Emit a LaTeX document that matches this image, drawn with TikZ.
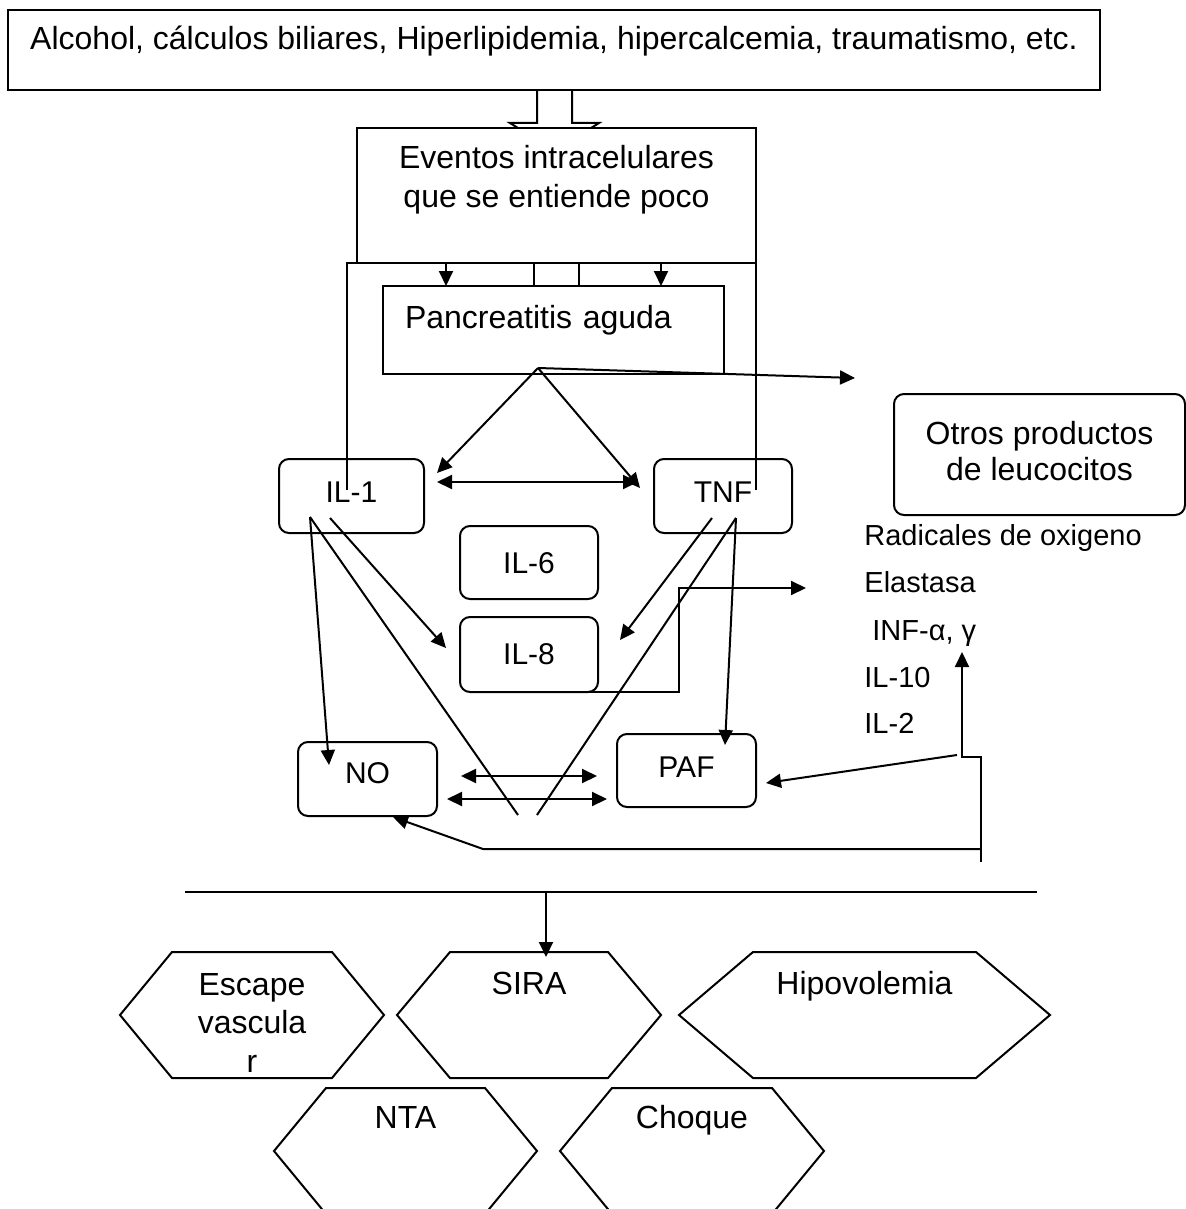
\documentclass[tikz,border=0pt]{standalone}
\usepackage{fontspec}
\setmainfont{Liberation Sans}
\usetikzlibrary{arrows.meta, positioning, calc}

\pgfdeclarelayer{back}
\pgfsetlayers{back,main}

\tikzset{
  box/.style={draw, line width=1pt, outer sep=0pt, align=center, font=\fontsize{16}{19.2}\selectfont},
  cbox/.style={draw, line width=1pt, rounded corners=5pt, outer sep=0pt, align=center, font=\fontsize{15}{18}\selectfont},
  lift/.style={text height=10.7pt, text depth=#1},
  hexa/.style={outer sep=0pt, inner sep=0pt, minimum height=63pt, align=center, font=\fontsize{16}{19.2}\selectfont},
  toptext/.style={text height=8pt, text depth=#1},
  listtxt/.style={anchor=base west, inner sep=0pt, font=\fontsize{14.5}{17.4}\selectfont},
  conn/.style={line width=1pt},
  arr/.style={line width=1pt, -{Triangle[length=7.5pt, width=7pt]}},
  darr/.style={line width=1pt, {Triangle[length=7.5pt, width=7pt]}-{Triangle[length=7.5pt, width=7pt]}},
  hexline/.style={line width=1pt, line join=miter}
}

% hexagon round a node: #1 node name, #2 size of the pointed ends
\newcommand{\hexframe}[2]{%
  \draw[hexline] (#1.west) -- ($(#1.north west)+(#2,0)$) -- ($(#1.north east)+(-#2,0)$)
    -- (#1.east) -- ($(#1.south east)+(-#2,0)$) -- ($(#1.south west)+(#2,0)$) -- cycle;}

\begin{document}
\begin{tikzpicture}[x=0.5pt, y=-0.5pt]
  \useasboundingbox (0,0) rectangle (1186,1209);

  % --- Top: causes ---
  \node[box, minimum width=546pt, minimum height=40pt, text height=12pt, text depth=12pt] (causas) at (554,50)
    {Alcohol, cálculos biliares, Hiperlipidemia, hipercalcemia, traumatismo, etc.};
  \node[box, fill=white, minimum width=199.5pt, minimum height=67.5pt] (eventos) at (556.5,195.5)
    {Eventos intracelulares\\que se entiende poco\\~};
  \node[box, minimum width=170.5pt, minimum height=44pt, text width=148.5pt, inner xsep=11pt, align=left,
    text height=12pt, text depth=13.5pt] (pancrea) at (553.5,330) {Pancreatitis aguda};

  \begin{pgfonlayer}{back}
    \draw[conn, fill=white] ($(causas.south)+(-17,0)$) -- ++(0,33) -- ++(-27,0) -- ++(44.5,28)
      -- ++(44.5,-28) -- ++(-27,0) -- ++(0,-33);
  \end{pgfonlayer}

  % --- Mediators ---
  \node[cbox, lift=4pt, minimum width=72.5pt, minimum height=37pt] (il1) at (351.5,496) {IL-1};
  \node[cbox, lift=4pt, minimum width=69pt, minimum height=37pt] (tnf) at (723,496) {TNF};
  \node[cbox, lift=0pt, minimum width=69pt, minimum height=36.5pt] (il6) at (529,562.5) {IL-6};
  \node[cbox, lift=1pt, minimum width=69pt, minimum height=37.5pt] (il8) at (529,654.5) {IL-8};
  \node[cbox, lift=6pt, minimum width=69.5pt, minimum height=37pt] (no) at (367.5,779) {NO};
  \node[cbox, lift=3.5pt, minimum width=69.5pt, minimum height=36.5pt] (paf) at (686.5,770.5) {PAF};
  \node[cbox, minimum width=145.5pt, minimum height=60.5pt, font=\fontsize{16}{18}\selectfont] (otros) at (1039.5,454.5)
    {Otros productos\\de leucocitos\rule[-4pt]{0pt}{0pt}};

  % --- Right: leukocyte products ---
  \node[listtxt] (radicales) at (864,545) {Radicales de oxigeno};
  \node[listtxt] (elastasa) at (864,592) {Elastasa};
  \node[listtxt] (inf) at (872,640) {INF-α, γ};
  \node[listtxt] (il10) at (864,687) {IL-10};
  \node[listtxt] (il2) at (864,733) {IL-2};

  % --- Bottom: consequences ---
  \node[hexa, minimum width=132pt] (escape) at (252,1015) {\rule{0pt}{18.7pt}Escape\\vascula\\r};
  \node[hexa, minimum width=132pt, toptext=28.5pt] (sira) at (529,1015) {SIRA};
  \node[hexa, minimum width=185.5pt, toptext=28.5pt] (hipo) at (864.5,1015) {Hipovolemia};
  \node[hexa, minimum width=131.5pt, toptext=30.5pt] (nta) at (405.5,1151) {NTA};
  \node[hexa, minimum width=132pt, toptext=30.5pt] (choque) at (692,1151) {Choque};
  \hexframe{escape}{52}
  \hexframe{sira}{53}
  \hexframe{hipo}{74}
  \hexframe{nta}{52}
  \hexframe{choque}{52}

  % free ends
  \coordinate (il1in) at (347,490);
  \coordinate (tnfin) at (756,490);
  \coordinate (pL) at ($(pancrea.north west)+(63,0)$);
  \coordinate (pR) at ($(pancrea.north east)+(-63,0)$);
  \coordinate (psrc) at ($(pancrea.south)+(-15.5,-6)$);
  \coordinate (ia) at ($(il1.south west)+(31,-16)$);
  \coordinate (ib) at ($(il1.south west)+(51,-15)$);
  \coordinate (ta) at ($(tnf.south west)+(58,-15)$);
  \coordinate (tb) at ($(tnf.south west)+(82,-15)$);
  \coordinate (vl) at (518,815);
  \coordinate (vr) at (537,815);
  \coordinate (ep) at ($(elastasa.base west)+(-58,-4)$);
  \coordinate (bb) at (981,862);
  \coordinate (sep) at (546,892);

  % eventos -> pancreatitis
  \draw[conn] ($(pancrea.north)+(-19.5,0)$) |- (il1in |- eventos.south) -- (il1in);
  \draw[arr] (pL |- eventos.south) -- (pL);
  \draw[conn] ($(pancrea.north)+(25.5,0)$) |- (eventos.south east) -- (tnfin);
  \draw[arr] (pR |- eventos.south) -- (pR);

  % pancreatitis -> mediators
  \draw[arr] (psrc) -- ($(il1.north east)+(13,14)$);
  \draw[arr] (psrc) -- ($(tnf.north west)+(-14,29)$);
  \draw[arr] (psrc) -- ($(otros.west)+(-39,-76.5)$);
  \draw[darr] ($(il1.east)+(13,-14)$) -- ($(tnf.west)+(-16,-14)$);

  % IL-1 and TNF
  \draw[arr] (ia) -- ($(no.north west)+(31,23)$);
  \draw[conn] (ia) -- (vl);
  \draw[arr] (ib) -- ($(il8.west)+(-14,-6.5)$);
  \draw[arr] (ta) -- ($(il8.east)+(22,-14.5)$);
  \draw[conn] (tb) -- (vr);
  \draw[arr] (tb) -- ($(paf.north)+(38.5,11)$);

  % IL-8 -> leukocyte products
  \draw[arr] ($(il8.south)+(21,0)$) -| ($(ep)+(-127,0)$) -- (ep);

  % NO <-> PAF
  \draw[darr] ($(no.east)+(24,-3)$) -- ($(paf.west)+(-20,5.5)$);
  \draw[darr] ($(no.east)+(10,20)$) -- ($(paf.west)+(-10,28.5)$);

  % feedback
  \draw[arr] (bb) -- ++(0,-105) -- ++(-19,0) -- ++(0,-105);
  \draw[arr] ($(bb)+(-24,-107)$) -- ($(paf.east)+(10,12.5)$);
  \draw[arr] ($(bb)+(0,-13)$) -- ($(no.south)+(115.5,33)$) -- ($(no.south)+(25.5,1)$);

  % separator -> SIRA
  \draw[conn] (185,892) -- (1037,892);
  \draw[arr] (sep) -- ($(sira.north)+(17,5)$);
\end{tikzpicture}
\end{document}
